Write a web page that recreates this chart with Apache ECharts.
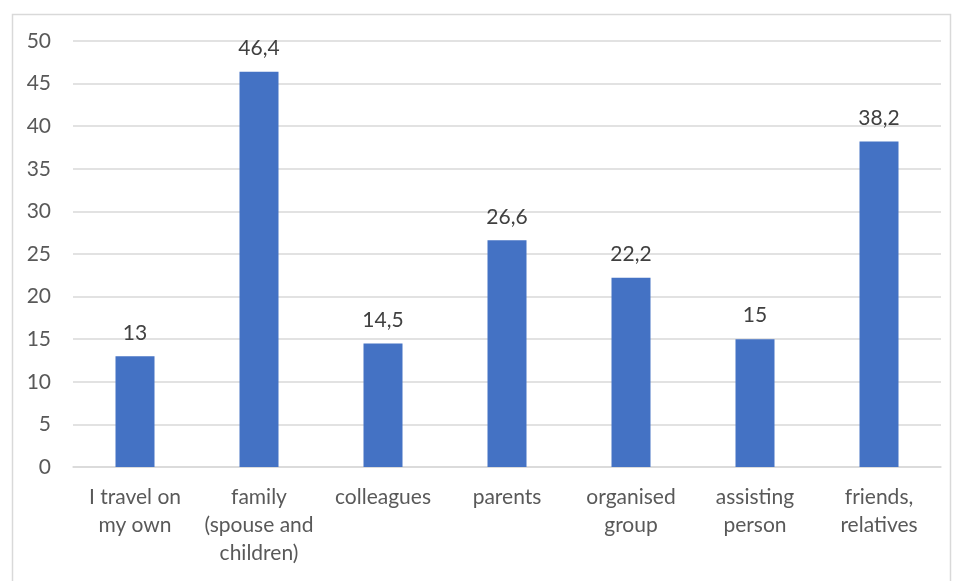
<!DOCTYPE html>
<html><head><meta charset="utf-8">
<script src="https://cdn.jsdelivr.net/npm/echarts@6/dist/echarts.min.js"></script>
<style>html,body{margin:0;padding:0;background:#fff}#c{width:957px;height:581px}</style>
</head><body><div id="c"></div>
<script>
const categories = ["I travel on\nmy own", "family\n(spouse and\nchildren)", "colleagues", "parents", "organised\ngroup", "assisting\nperson", "friends,\nrelatives"];
const values = [13, 46.4, 14.5, 26.6, 22.2, 15, 38.2];
const yTicks = [0, 5, 10, 15, 20, 25, 30, 35, 40, 45, 50];

const chart = echarts.init(document.getElementById('c'), null, {renderer: 'canvas'});
const font = 'Lato, "Open Sans", sans-serif';
chart.setOption({
  animation: false,
  textStyle: {fontFamily: font},
  graphic: [{
    type: 'rect', left: 10, top: 12, shape: {width: 938, height: 580},
    style: {fill: 'none', stroke: '#d9d9d9', lineWidth: 1.5}, silent: true
  }],
  grid: {left: 73, right: 16, top: 41, bottom: 114, containLabel: false},
  xAxis: {
    type: 'category', data: categories,
    axisLine: {show: true, lineStyle: {color: '#d9d9d9', width: 1.5}},
    axisTick: {show: false},
    axisLabel: {color: '#595959', fontSize: 21, lineHeight: 28, margin: 16, interval: 0, fontFamily: font}
  },
  yAxis: {
    type: 'value', min: yTicks[0], max: yTicks[yTicks.length - 1], interval: 5,
    axisLine: {show: false}, axisTick: {show: false},
    splitLine: {lineStyle: {color: '#d9d9d9', width: 1.5}},
    axisLabel: {color: '#595959', fontSize: 21, margin: 22, fontFamily: font}
  },
  series: [{
    type: 'bar', data: values, barWidth: 39,
    itemStyle: {color: '#4472c4'},
    label: {
      show: true, position: 'top', distance: 13, color: '#404040', fontSize: 21, fontFamily: font,
      formatter: p => String(p.value).replace('.', ',')
    }
  }]
});
</script></body></html>
